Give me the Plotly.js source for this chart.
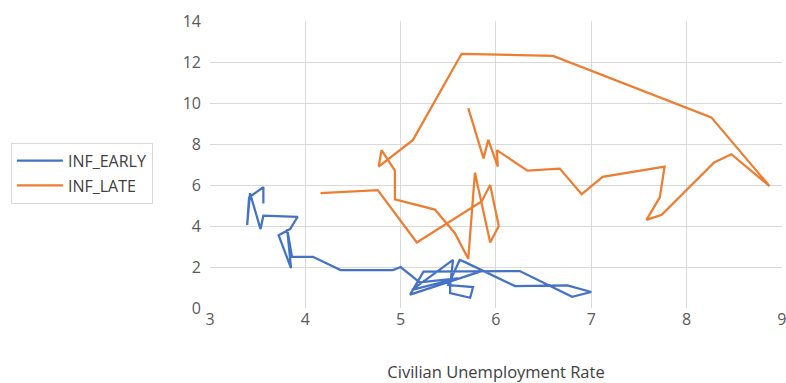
<!DOCTYPE html>
<html>
<head>
<meta charset="utf-8">
<script src="https://cdn.plot.ly/plotly-3.0.1.min.js"></script>
<style>html,body{margin:0;padding:0;background:#fff;}#chart{width:786px;height:383px;}</style>
</head>
<body>
<div id="chart"></div>
<script>
// INF_EARLY series (unemployment rate, inflation)
const earlyUnemp = [3.56,3.56,3.41,3.39,3.42,3.53,3.56,3.92,3.84,3.72,3.85,3.81,3.86,4.08,4.37,4.92,5.0,5.2,5.6,5.12,5.55,5.52,5.52,5.73,5.76,5.5,5.62,5.67,6.2,6.75,7.0,6.8,6.25,5.24,5.1,5.85];
const earlyInf   = [5.1,5.9,5.4,4.05,5.6,3.85,4.5,4.45,3.85,3.55,1.95,3.85,2.5,2.5,1.85,1.85,2.0,1.25,1.45,0.88,2.35,1.1,0.73,0.5,1.02,1.12,2.34,2.25,1.07,1.1,0.78,0.55,1.8,1.77,0.65,1.8];
// INF_LATE series
const lateUnemp = [4.16,4.76,5.17,5.85,5.94,6.03,5.94,5.78,5.71,5.57,5.36,4.94,4.94,4.8,4.77,5.13,5.64,6.6,8.26,8.87,8.47,8.29,7.74,7.58,7.72,7.77,7.12,6.9,6.67,6.33,6.01,6.02,5.92,5.87,5.71];
const lateInf   = [5.6,5.75,3.2,5.2,6.0,4.0,3.2,6.6,2.4,3.65,4.8,5.3,6.7,7.7,6.9,8.2,12.4,12.3,9.3,5.95,7.5,7.1,4.55,4.3,5.4,6.9,6.4,5.55,6.8,6.7,7.7,6.9,8.2,7.3,9.75];
const seriesNames = ['INF_EARLY','INF_LATE'];
const xTicks = [3,4,5,6,7,8,9];
const yTicks = [0,2,4,6,8,10,12,14];

const font = 'Open Sans, Liberation Sans, sans-serif';
const data = [
  {x: earlyUnemp, y: earlyInf, name: seriesNames[0], mode: 'lines', type: 'scatter',
   legendgroup: 'a', line: {color: '#4472C4', width: 2.25}},
  {x: lateUnemp, y: lateInf, name: seriesNames[1], mode: 'lines', type: 'scatter',
   legendgroup: 'b', line: {color: '#ED7D31', width: 2.25}}
];
const layout = {
  width: 786, height: 383,
  margin: {l: 209.5, r: 3.5, t: 21, b: 75},
  paper_bgcolor: '#fff', plot_bgcolor: '#fff',
  font: {family: font, color: '#595959'},
  showlegend: true,
  legend: {x: -0.348, xanchor: 'left', y: 0.576, yanchor: 'top',
    bordercolor: '#d9d9d9', borderwidth: 1, bgcolor: '#fff',
    font: {family: font, size: 16, color: '#404040'},
    itemwidth: 46,
    traceorder: 'grouped', tracegroupgap: 1},
  xaxis: {range: [3, 9.002], tickvals: xTicks, ticktext: xTicks.map(String),
    showgrid: true, gridcolor: '#d9d9d9', gridwidth: 1, zeroline: false,
    showline: false, ticks: '', ticklabeloverflow: 'allow',
    tickfont: {family: font, size: 16, color: '#595959'},
    title: {text: 'Civilian Unemployment Rate', font: {family: font, size: 16.5, color: '#404040'}, standoff: 37}},
  yaxis: {range: [0, 14], tickvals: yTicks, ticktext: yTicks.map(String),
    showgrid: true, gridcolor: '#d9d9d9', gridwidth: 1, zeroline: false,
    showline: false, ticks: '', ticklabelstandoff: 8,
    tickfont: {family: font, size: 16, color: '#595959'}}
};
Plotly.newPlot('chart', data, layout, {staticPlot: true});
</script>
</body>
</html>
